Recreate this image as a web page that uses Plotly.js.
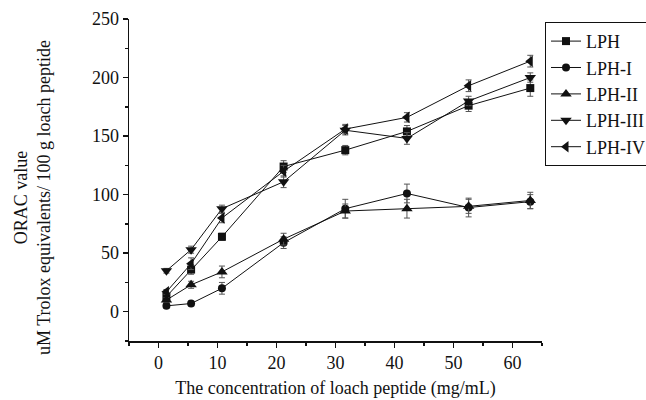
<!DOCTYPE html>
<html><head><meta charset="utf-8">
<script src="https://cdn.plot.ly/plotly-3.0.1.min.js"></script>
<style>html,body{margin:0;padding:0;background:#fff}#chart{width:646px;height:400px}</style>
</head><body><div id="chart"></div>
<script>
var conc = [1, 5, 10, 20, 30, 40, 50, 60];
var seriesNames = ['LPH', 'LPH-I', 'LPH-II', 'LPH-III', 'LPH-IV'];
var LPH    = [13, 36, 64, 124, 138, 154, 176, 191];
var LPH_I  = [5, 7, 20, 59, 88, 101, 89, 94];
var LPH_II = [10, 23, 34, 62, 86, 88, 90, 95];
var LPH_III= [35, 53, 88, 111, 155, 148, 180, 200];
var LPH_IV = [17, 41, 80, 120, 156, 166, 193, 214];
var LPH_err    = [2, 4, 3, 5, 4, 5, 5, 7];
var LPH_I_err  = [2, 2, 5, 5, 8, 8, 8, 6];
var LPH_II_err = [2, 3, 5, 5, 6, 8, 6, 7];
var LPH_III_err= [2, 3, 3, 5, 4, 5, 4, 4];
var LPH_IV_err = [2, 5, 4, 5, 4, 4, 5, 5];
var symbols = ['square', 'circle', 'triangle-up', 'triangle-down', 'triangle-left'];
var xTickVals = [0, 10, 20, 30, 40, 50, 60];
var yTickVals = [0, 50, 100, 150, 200, 250];

var values = [LPH, LPH_I, LPH_II, LPH_III, LPH_IV];
var errs = [LPH_err, LPH_I_err, LPH_II_err, LPH_III_err, LPH_IV_err];
var serif = '"Liberation Serif", "Times New Roman", serif';

var traces = values.map(function(v, i){
  return {
    x: conc, y: v, name: seriesNames[i], type: 'scatter', mode: 'lines+markers',
    xaxis: 'x', yaxis: 'y',
    line: {color: '#111', width: 1},
    marker: {symbol: symbols[i], size: i >= 2 ? 10 : 8, color: '#111'},
    error_y: {type: 'data', array: errs[i], visible: true, color: '#555', thickness: 1, width: 3}
  };
});
traces.push({x: [], y: [], xaxis: 'x2', yaxis: 'y', showlegend: false, type: 'scatter', mode: 'markers'});

var layout = {
  width: 646, height: 400,
  margin: {l: 129, r: 104, t: 19, b: 59, autoexpand: false},
  paper_bgcolor: '#fff', plot_bgcolor: '#fff',
  font: {family: serif, color: '#111', size: 18},
  showlegend: true,
  xaxis: {
    range: [-5.07, 61.9], showgrid: false, zeroline: false, showline: false,
    showticklabels: false, ticks: ''
  },
  xaxis2: {
    overlaying: 'x', anchor: 'y', side: 'bottom',
    range: [-5, 65], tickvals: xTickVals, ticks: 'outside', ticklen: 5, tickwidth: 1.5, tickcolor: '#111',
    minor: {dtick: 5, ticks: 'outside', ticklen: 3, tickwidth: 1.5, tickcolor: '#111', showgrid: false},
    showline: true, linecolor: '#111', linewidth: 1.5, showgrid: false, zeroline: false,
    tickfont: {family: serif, size: 18, color: '#111'},
    title: {text: 'The concentration of loach peptide (mg/mL)', font: {family: serif, size: 18, color: '#111'}, standoff: 9}
  },
  yaxis: {
    range: [-25, 250], tickvals: yTickVals, ticks: 'outside', ticklen: 5, tickwidth: 1.5, tickcolor: '#111',
    minor: {dtick: 25, ticks: 'outside', ticklen: 3, tickwidth: 1.5, tickcolor: '#111', showgrid: false},
    showline: true, linecolor: '#111', linewidth: 1.5, showgrid: false, zeroline: false,
    tickfont: {family: serif, size: 18, color: '#111'}
  },
  legend: {
    x: 1.0073, y: 0.991, xanchor: 'left', yanchor: 'top',
    bordercolor: '#111', borderwidth: 1, bgcolor: '#fff',
    font: {family: serif, size: 18, color: '#111'},
    tracegroupgap: 0
  },
  annotations: [{
    xref: 'paper', yref: 'paper', x: -0.235, y: 0.447, xanchor: 'center', yanchor: 'middle',
    textangle: -90, showarrow: false, align: 'center',
    text: 'ORAC value<br>uM Trolox equivalents/ 100 g loach peptide',
    font: {family: serif, size: 18, color: '#111'}
  }]
};
Plotly.newPlot('chart', traces, layout, {displayModeBar: false, staticPlot: true});
</script></body></html>
